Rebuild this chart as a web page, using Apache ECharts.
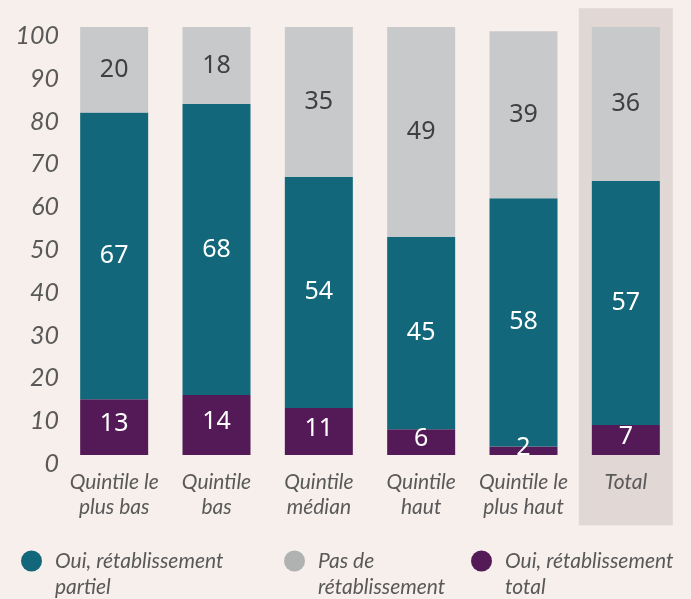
<!DOCTYPE html>
<html>
<head>
<meta charset="utf-8">
<script src="https://cdn.jsdelivr.net/npm/echarts@6/dist/echarts.min.js"></script>
<style>
  html, body { margin: 0; padding: 0; background: #f6efec; }
  #chart { width: 691px; height: 599px; }
</style>
</head>
<body>
<div id="chart"></div>
<script>
// ── Data ─────────────────────────────────────────────────────────────────────
const categories = ['Quintile le\nplus bas', 'Quintile\nbas', 'Quintile\nmédian', 'Quintile\nhaut', 'Quintile le\nplus haut', 'Total'];
const totalRecovery   = [13, 14, 11, 6, 2, 7];
const partialRecovery = [67, 68, 54, 45, 58, 57];
const noRecovery      = [20, 18, 35, 49, 39, 36];
const yTicks = { min: 0, max: 100, interval: 10 };

const NAME_PARTIAL = 'Oui, rétablissement\npartiel';
const NAME_NONE    = 'Pas de\nrétablissement';
const NAME_TOTAL   = 'Oui, rétablissement\ntotal';

const TEAL = '#13677a', GREY = '#c8c9cb', PURPLE = '#541a58';
const TEXT = '#595959';

const chart = echarts.init(document.getElementById('chart'), null, { renderer: 'canvas' });

const labelFont = { fontFamily: 'Noto Sans', fontSize: 25, fontWeight: 'normal' };

// one legend per item so each can sit where the reference puts it
const legendAt = (left, name, color) => ({
    left: left, top: 522, padding: 0,
    icon: 'circle',
    itemWidth: 37, itemHeight: 21,
    selectedMode: false,
    // leading blank line keeps the dot level with the first text line
    formatter: n => '\n' + n,
    textStyle: {
        fontFamily: 'Lato', fontStyle: 'italic', fontSize: 21, color: TEXT, lineHeight: 26
    },
    data: [{ name: name, itemStyle: { color: color } }]
});

chart.setOption({
    backgroundColor: '#f6efec',
    animation: false,
    grid: { left: 63, right: 14, top: 27, bottom: 144 },
    legend: [
        legendAt(21, NAME_PARTIAL, TEAL),
        legendAt(284, NAME_NONE, '#b0b1b1'),
        legendAt(471, NAME_TOTAL, PURPLE)
    ],
    xAxis: {
        type: 'category',
        data: categories,
        axisLine: { show: false },
        axisTick: { show: false },
        axisLabel: {
            interval: 0, margin: 15,
            fontFamily: 'Lato', fontStyle: 'italic', fontSize: 21,
            lineHeight: 25, color: TEXT
        }
    },
    yAxis: {
        type: 'value',
        min: yTicks.min, max: yTicks.max, interval: yTicks.interval,
        axisLine: { show: false },
        axisTick: { show: false },
        splitLine: { show: false },
        axisLabel: {
            margin: 4, verticalAlign: 'top', lineHeight: 18,
            fontFamily: 'Lato', fontStyle: 'italic', fontSize: 25, color: TEXT
        }
    },
    series: [
        {
            // shaded band behind the Total column
            type: 'custom',
            silent: true,
            clip: false,
            z: 0,
            data: [[5, 104.4, -16.4]],
            renderItem: (params, api) => {
                const top = api.coord([api.value(0), api.value(1)]);
                const bot = api.coord([api.value(0), api.value(2)]);
                const w = 94;
                return {
                    type: 'rect',
                    shape: { x: top[0] - w / 2, y: top[1], width: w, height: bot[1] - top[1] },
                    style: { fill: '#e1d7d4' }
                };
            }
        },
        {
            name: NAME_TOTAL, type: 'bar', stack: 'all', barWidth: 68, z: 2,
            data: totalRecovery,
            itemStyle: { color: PURPLE },
            label: { show: true, position: 'inside', offset: [0, -3], color: '#ffffff', ...labelFont }
        },
        {
            name: NAME_PARTIAL, type: 'bar', stack: 'all', barWidth: 68, z: 2,
            data: partialRecovery,
            itemStyle: { color: TEAL },
            label: { show: true, position: 'inside', color: '#ffffff', ...labelFont }
        },
        {
            name: NAME_NONE, type: 'bar', stack: 'all', barWidth: 68, z: 2,
            data: noRecovery,
            itemStyle: { color: GREY },
            label: { show: true, position: 'inside', color: '#404040', ...labelFont }
        }
    ]
});
</script>
</body>
</html>
